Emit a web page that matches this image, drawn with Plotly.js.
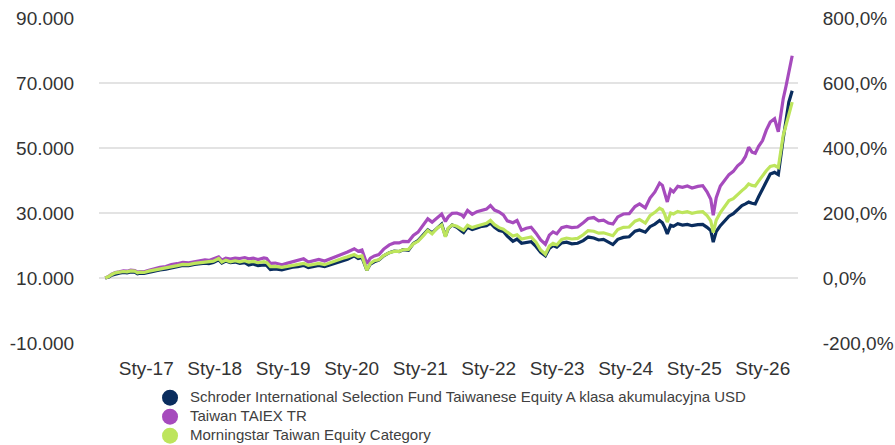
<!DOCTYPE html>
<html>
<head>
<meta charset="utf-8">
<script src="https://cdn.plot.ly/plotly-3.0.1.min.js"></script>
<style>html,body{margin:0;padding:0;background:#fff;}#chart{width:895px;height:445px;}</style>
</head>
<body>
<div id="chart"></div>
<script>
// Observation dates
const dates = [
 "2016-05-27","2016-06-15","2016-07-01","2016-07-20","2016-08-10","2016-09-01","2016-09-20","2016-10-10","2016-11-01","2016-11-15","2016-12-01","2016-12-20",
 "2017-01-15","2017-02-15","2017-03-15","2017-04-15","2017-05-15","2017-06-15","2017-07-15","2017-08-15","2017-09-15","2017-10-15","2017-11-10","2017-12-01","2017-12-25",
 "2018-01-22","2018-02-08","2018-03-01","2018-03-25","2018-04-20","2018-05-15","2018-06-10","2018-07-01","2018-07-25","2018-08-20","2018-09-20","2018-10-05","2018-10-25","2018-11-20","2018-12-25",
 "2019-01-20","2019-02-20","2019-03-20","2019-04-20","2019-05-15","2019-06-10","2019-07-10","2019-08-10","2019-09-15","2019-10-15","2019-11-15","2019-12-10",
 "2020-01-15","2020-02-05","2020-02-25","2020-03-22","2020-04-10","2020-05-01","2020-05-25","2020-06-20","2020-07-20","2020-08-15","2020-09-10","2020-10-01","2020-10-30","2020-11-25","2020-12-20",
 "2021-01-20","2021-02-10","2021-03-05","2021-04-01","2021-04-25","2021-05-15","2021-05-30","2021-06-20","2021-07-15","2021-08-10","2021-08-20","2021-09-10","2021-10-05","2021-10-30","2021-11-25","2021-12-20",
 "2022-01-10","2022-02-01","2022-02-25","2022-03-20","2022-04-10","2022-05-10","2022-06-01","2022-06-25","2022-07-20","2022-08-15","2022-09-10","2022-10-05","2022-10-30","2022-11-20","2022-12-10","2022-12-30",
 "2023-01-25","2023-02-20","2023-03-20","2023-04-20","2023-05-20","2023-06-15","2023-07-15","2023-08-10","2023-09-05","2023-10-01","2023-10-25","2023-11-20","2023-12-20",
 "2024-01-20","2024-02-20","2024-03-15","2024-04-15","2024-05-10","2024-06-05","2024-06-30","2024-07-15","2024-07-28","2024-08-10","2024-08-28","2024-09-12","2024-10-05","2024-10-30","2024-11-25","2024-12-20",
 "2025-01-20","2025-02-15","2025-03-10","2025-03-30","2025-04-12","2025-04-28","2025-05-20","2025-06-12","2025-07-05","2025-07-28","2025-08-20","2025-09-12","2025-10-01","2025-10-18","2025-11-05","2025-11-22","2025-12-10","2025-12-31",
 "2026-01-20","2026-02-10","2026-03-05","2026-03-25","2026-04-20","2026-05-05","2026-05-20","2026-06-07"
];
// Schroder International Selection Fund Taiwanese Equity A (growth of 10 000)
const schroder = [
 10000,10300,10900,11300,11500,11700,11600,11900,11800,11300,11500,11400,
 11800,12100,12500,12700,13200,13500,13900,13800,14200,14400,14600,14400,14800,
 15600,14600,15200,14700,14900,14500,14700,14000,14300,13800,14000,13900,12600,12800,12500,
 12900,13300,13500,13900,13200,13500,13900,13500,14200,14800,15400,15800,
 16800,16000,16300,12400,14300,15000,15500,16800,17800,18300,18100,18700,18500,20600,21500,
 23500,24800,23900,25500,26600,22900,25200,26300,25600,24400,24000,25600,24900,25400,25900,26100,
 26900,25600,24600,24300,22900,21300,22000,20700,20900,21200,19700,17900,16800,19100,20000,19500,
 20800,21000,20500,20700,21500,22600,22300,21700,21900,21000,20300,21900,22500,
 22700,24400,24800,24100,25800,26600,27700,27000,25500,23600,26200,25900,26700,26300,26500,26100,
 26400,26500,25600,24600,21050,24300,26100,27500,29000,29800,31200,32300,32800,33350,33000,32800,35000,37300,
 39500,42000,42500,41800,52800,58000,64100,67600
];
// Taiwan TAIEX TR
const taiex = [
 10000,10500,11200,11700,11900,12200,12100,12400,12300,11800,12000,11900,
 12400,12900,13300,13500,14100,14400,14800,14700,15100,15300,15600,15400,15800,
 16500,15500,16100,15800,16100,16000,16300,15900,16100,15700,16200,16000,14500,14600,14100,
 14500,15000,15300,15900,14900,15300,15700,15200,16000,16800,17500,18000,
 19000,18200,18600,14400,16100,16800,17200,18900,20200,20800,20800,21300,21200,23100,24100,
 26700,28200,27200,28700,29700,27400,28800,29900,30000,29400,28800,30800,29600,30400,30900,31200,
 32300,30900,30300,29400,27600,27000,27700,24700,25300,25600,23800,21700,20400,23200,24200,23600,
 25500,25900,25500,25700,27000,28300,28600,27600,27800,26900,26600,28800,29700,
 29800,32000,32800,31600,34600,36500,39200,38500,35800,33400,37200,36500,38200,37900,38300,37700,
 38200,38400,36500,34200,29300,34700,38300,40100,41800,42800,44500,45650,47400,50250,48700,48400,50500,52300,
 55500,58000,59000,55000,65100,69000,73300,78400
];
// Morningstar Taiwan Equity Category
const category = [
 10000,10450,11100,11600,11800,12000,11900,12200,12100,11600,11800,11700,
 12100,12400,12800,13000,13500,13800,14200,14100,14500,14700,14900,14800,15200,
 16000,14900,15500,15000,15300,15000,15300,14900,15100,14700,15000,14800,13500,13600,13300,
 13600,14000,14200,14500,13900,14200,14500,14100,14900,15500,16100,16500,
 17200,16500,16800,12350,14500,15300,15600,16900,17800,18200,18200,18700,18800,20500,21300,
 23200,24600,23600,25300,26300,22700,25300,26300,25900,25000,24700,26200,25500,26000,26400,26800,
 27700,26400,25500,25000,24100,22900,23300,22000,22300,22600,21000,18600,17300,19800,20700,20200,
 21900,22300,22000,22200,23300,24600,24400,23800,23900,23300,23000,24900,25600,
 25700,27500,28000,26900,29200,30200,31500,31000,29500,27200,30000,29700,30500,30100,30400,29900,
 30300,30400,29200,27600,24000,27800,30100,32100,33800,34400,35800,36900,37800,38950,38500,38300,39800,41500,
 43000,44300,44600,44000,53800,57000,60000,64100
];
const seriesNames = [
 "Schroder International Selection Fund Taiwanese Equity A klasa akumulacyjna USD",
 "Taiwan TAIEX TR",
 "Morningstar Taiwan Equity Category"
];
const seriesColors = ["#0a2d5e", "#a64bbd", "#bde55c"];
const tickDates = ["2017-01-01","2018-01-01","2019-01-01","2020-01-01","2021-01-01","2022-01-01","2023-01-01","2024-01-01","2025-01-01","2026-01-01"];
const tickLabels = ["Sty-17","Sty-18","Sty-19","Sty-20","Sty-21","Sty-22","Sty-23","Sty-24","Sty-25","Sty-26"];
const leftTicks = [-10000,10000,30000,50000,70000,90000];
const leftLabels = ["-10.000","10.000","30.000","50.000","70.000","90.000"];
const rightLabels = ["-200,0%","0,0%","200,0%","400,0%","600,0%","800,0%"];

const values = [schroder, taiex, category];
const traces = [];
values.forEach((v, i) => {
  traces.push({x: dates, y: v, type: "scatter", mode: "lines", showlegend: false,
    line: {color: seriesColors[i], width: 3.2}, hoverinfo: "skip"});
});
seriesNames.forEach((n, i) => {
  traces.push({x: [null], y: [null], type: "scatter", mode: "markers",
    name: '<span style="font-size:15px">' + n + '</span>',
    yaxis: i === 0 ? "y2" : "y",
    marker: {color: seriesColors[i], size: 16, symbol: "circle"}});
});

const tickFont = {family: "Liberation Sans, Arial, sans-serif", size: 19, color: "#333333"};
const layout = {
  width: 895, height: 445,
  margin: {l: 99, r: 97, t: 18, b: 102},
  paper_bgcolor: "#ffffff", plot_bgcolor: "#ffffff",
  showlegend: true,
  legend: {xref: "paper", yref: "container", x: 0.073, y: 0.139, xanchor: "left", yanchor: "top",
    orientation: "v",
    font: {family: "Liberation Sans, Arial, sans-serif", size: 12, color: "#404040"},
    tracegroupgap: 0, bgcolor: "rgba(0,0,0,0)"},
  xaxis: {type: "date", range: ["2016-04-24", "2026-07-08"],
    tickvals: tickDates, ticktext: tickLabels, tickfont: tickFont,
    showgrid: false, zeroline: false, showline: false, ticks: "outside", ticklen: 8, tickcolor: "rgba(0,0,0,0)"},
  yaxis: {range: [-10000, 90000], tickvals: leftTicks, ticktext: leftLabels, tickfont: tickFont,
    showgrid: true, gridcolor: "#e3e3e3", gridwidth: 2, zeroline: false, showline: false,
    ticks: "outside", ticklen: 20, tickcolor: "rgba(0,0,0,0)"},
  yaxis2: {range: [-10000, 90000], tickvals: leftTicks, ticktext: rightLabels, tickfont: tickFont,
    overlaying: "y", side: "right", showgrid: false, zeroline: false, showline: false,
    ticks: "outside", ticklen: 20, tickcolor: "rgba(0,0,0,0)"}
};
Plotly.newPlot("chart", traces, layout, {displayModeBar: false, staticPlot: true});
</script>
</body>
</html>
